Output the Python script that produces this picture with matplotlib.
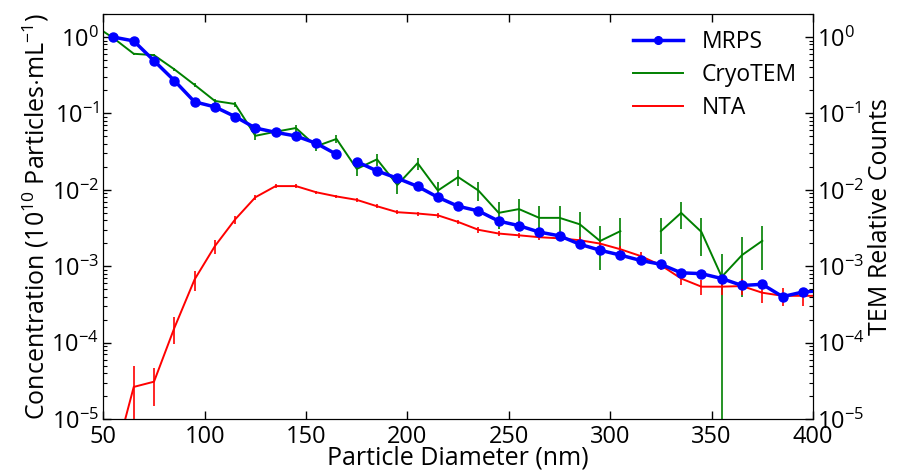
import numpy as np
import matplotlib
matplotlib.use('Agg')
import matplotlib.pyplot as plt

plt.rcParams['font.family'] = ['Open Sans', 'DejaVu Sans']
plt.rcParams['mathtext.fontset'] = 'custom'
plt.rcParams['mathtext.rm'] = 'Open Sans'
plt.rcParams['mathtext.it'] = 'Open Sans:italic'
plt.rcParams['font.size'] = 17

# MRPS
mrps_d = [55, 65, 75, 85, 95, 105, 115, 125, 135, 145, 155, 165, np.nan,
          175, 185, 195, 205, 215, 225, 235, 245, 255, 265, 275, 285, 295,
          305, 315, 325, 335, 345, 355, 365, 375, 385, 395, 405]
mrps_c = [1.0, 0.89, 0.49, 0.27, 0.142, 0.122, 0.091, 0.0645, 0.0566, 0.0507,
          0.0407, 0.0292, np.nan,
          0.0234, 0.0177, 0.0142, 0.0111, 0.0080, 0.0061, 0.0053, 0.0039,
          0.0034, 0.0028, 0.0025, 0.00194, 0.00162, 0.0014, 0.00119, 0.00106,
          0.00082, 0.00080, 0.00069, 0.00056, 0.00058, 0.00040, 0.00046, 0.00048]

# CryoTEM
tem_d = [45, 55, 65, 75, 85, 95, 105, 115, 125, 135, 145, 155, 165, 175, 185,
         195, 205, 215, 225, 235, 245, 255, 265, 275, 285, 295, 305, 315, 325,
         335, 345, 355, 365, 375]
tem_c = [1.45, 0.97, 0.605, 0.58, 0.379, 0.237, 0.146, 0.133, 0.051, 0.0577,
         0.0645, 0.0372, 0.0464, 0.0188, 0.0251, 0.0116, 0.0224, 0.0098,
         0.0147, 0.0098, 0.0050, 0.0056, 0.0043, 0.0043, 0.00354, 0.00214,
         0.00288, np.nan, 0.00288, 0.0050, 0.00281, 0.000727, 0.0014, 0.00215]
tem_err = [0.03, 0.027, 0.021, 0.02, 0.017, 0.013, 0.010, 0.010, 0.006, 0.0065,
           0.0069, 0.0052, 0.0058, 0.0037, 0.0043, 0.0029, 0.004, 0.0027,
           0.0033, 0.0027, 0.0019, 0.002, 0.0018, 0.0018, 0.0016, 0.00125,
           0.00145, np.nan, 0.00145, 0.0019, 0.00143, 0.000727, 0.001, 0.00125]

# NTA
nta_d = [55, 65, 75, 85, 95, 105, 115, 125, 135, 145, 155, 165, 175, 185, 195,
         205, 215, 225, 235, 245, 255, 265, 275, 285, 295, 305, 315, 325, 335,
         345, 355, 365, 375, 385, 395, 405]
nta_c = [2.6e-6, 2.63e-5, 3.08e-5, 1.55e-4, 6.7e-4, 1.83e-3, 4.1e-3, 8.0e-3,
         0.0112, 0.0112, 0.0093, 0.0082, 0.0074, 0.0061, 0.0051, 0.0049,
         0.00464, 0.0038, 0.0030, 0.00268, 0.00254, 0.0024, 0.00232, 0.00219,
         0.00198, 0.00167, 0.00136, 0.00103, 0.00069, 0.00054, 0.00054,
         0.00055, 0.00045, 0.00041, 0.00041, 0.00041]
nta_err = [2e-6, 2.3e-5, 1.6e-5, 6e-5, 1.9e-4, 4e-4, 5e-4, 6e-4, 6e-4, 6e-4,
           5e-4, 4.5e-4, 4e-4, 3.5e-4, 3e-4, 3e-4, 3e-4, 2.7e-4, 2.4e-4,
           2.2e-4, 2.1e-4, 2.1e-4, 2.1e-4, 2.0e-4, 1.9e-4, 1.8e-4, 1.6e-4,
           1.4e-4, 1.3e-4, 1.2e-4, 1.2e-4, 1.3e-4, 1.2e-4, 1.1e-4, 1.1e-4,
           1.1e-4]

fig = plt.figure(figsize=(9, 4.7), dpi=100)
ax = fig.add_axes([0.1148, 0.1085, 0.7885, 0.8615])

l1, = ax.plot(mrps_d, mrps_c, color='b', lw=2.5, marker='o', ms=6.5,
              markeredgecolor='b', zorder=4, label='MRPS')
eb2 = ax.errorbar(tem_d, tem_c, yerr=tem_err, color='g', lw=1.4,
                  elinewidth=1.2, label='CryoTEM', zorder=3)
eb3 = ax.errorbar(nta_d, nta_c, yerr=nta_err, color='r', lw=1.4,
                  elinewidth=1.2, label='NTA', zorder=3)

ax.set_yscale('log')
ax.set_xlim(50, 400)
ax.set_ylim(1e-5, 2)
ax.set_xticks(range(50, 401, 50))
ax.set_xlabel('Particle Diameter (nm)', fontsize=18, labelpad=-2)
ax.set_ylabel(r'Concentration (10$^{10}$ Particles$\cdot$mL$^{-1}$)',
              fontsize=18, labelpad=0)
ax.tick_params(which='both', direction='in', top=True, labelsize=17)
ax.tick_params(which='major', length=6, width=1)
ax.tick_params(which='minor', length=3, width=0.8)
ax.tick_params(axis='x', pad=4)
ax.tick_params(axis='y', pad=3)

ax2 = ax.twinx()
ax2.set_yscale('log')
ax2.set_ylim(1e-5, 2)
ax2.set_ylabel('TEM Relative Counts', fontsize=18, labelpad=2)
ax2.tick_params(which='both', direction='in', labelsize=17, pad=3)
ax2.tick_params(which='major', length=6, width=1)
ax2.tick_params(which='minor', length=3, width=0.8)

leg = ax.legend([l1, eb2[0], eb3[0]], ['MRPS', 'CryoTEM', 'NTA'],
                loc='upper right', frameon=False, numpoints=1, markerscale=0.85,
                fontsize=16.5, handlelength=2.2, handletextpad=0.8,
                borderaxespad=0.3, labelspacing=0.4)

fig.savefig('out.png', dpi=100)
